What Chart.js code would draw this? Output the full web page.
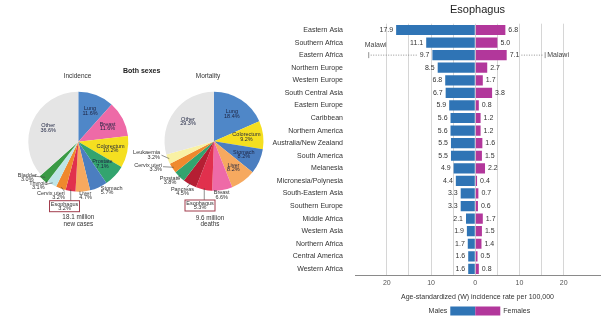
<!DOCTYPE html>
<html>
<head>
<meta charset="utf-8">
<script src="https://cdn.jsdelivr.net/npm/chart.js@4.4.1/dist/chart.umd.min.js"></script>
<style>
  html, body { margin: 0; padding: 0; background: #fff; }
  #page { position: relative; width: 608px; height: 326px; overflow: hidden; }
  .box { position: absolute; }
</style>
</head>
<body>
<div id="page">
  <div class="box" style="left:0;top:0;width:170px;height:240px"><canvas id="incidence"></canvas></div>
  <div class="box" style="left:130px;top:0;width:170px;height:240px"><canvas id="mortality"></canvas></div>
  <div class="box" style="left:250px;top:0;width:358px;height:326px"><canvas id="esophagus"></canvas></div>
</div>
<script>
// --- pies: share of all cancers, both sexes
const incLabels = ['Lung', 'Breast', 'Colorectum', 'Prostate', 'Stomach', 'Liver', 'Esophagus', 'Cervix uteri', 'Thyroid', 'Bladder', 'Other'];
const incShares = [11.6, 11.6, 10.2, 7.1, 5.7, 4.7, 3.2, 3.2, 3.1, 3.0, 36.6];
const incTotal = ['18.1 million', 'new cases'];

const mortLabels = ['Lung', 'Colorectum', 'Stomach', 'Liver', 'Breast', 'Esophagus', 'Pancreas', 'Prostate', 'Cervix uteri', 'Leukaemia', 'Other'];
const mortShares = [18.4, 9.2, 8.2, 8.2, 6.6, 5.3, 4.5, 3.8, 3.3, 3.2, 29.3];
const mortTotal = ['9.6 million', 'deaths'];

// --- esophagus rates by region
const regions = ['Eastern Asia', 'Southern Africa', 'Eastern Africa', 'Northern Europe', 'Western Europe',
  'South Central Asia', 'Eastern Europe', 'Caribbean', 'Northern America', 'Australia/New Zealand',
  'South America', 'Melanesia', 'Micronesia/Polynesia', 'South-Eastern Asia', 'Southern Europe',
  'Middle Africa', 'Western Asia', 'Northern Africa', 'Central America', 'Western Africa'];
const maleRates = [17.9, 11.1, 9.7, 8.5, 6.8, 6.7, 5.9, 5.6, 5.6, 5.5, 5.5, 4.9, 4.4, 3.3, 3.3, 2.1, 1.9, 1.7, 1.6, 1.6];
const femaleRates = [6.8, 5.0, 7.1, 2.7, 1.7, 3.8, 0.8, 1.2, 1.2, 1.6, 1.5, 2.2, 0.4, 0.7, 0.6, 1.7, 1.5, 1.4, 0.5, 0.8];
const malawiRegion = 'Eastern Africa';
const malawiRates = [24.1, 15.8]; // males, females
const rateTicks = [-20, -10, 0, 10, 20];

const FONT = '"Liberation Sans", Arial, Helvetica, sans-serif';
Chart.defaults.font.family = FONT;

const organColors = {
  'Lung': '#4f87c8', 'Breast': '#ee6aa7', 'Colorectum': '#f5df20', 'Prostate': '#33a46f',
  'Stomach': '#4b7ec0', 'Liver': '#f6a95f', 'Esophagus': '#e1304d', 'Cervix uteri': '#ef892d',
  'Thyroid': '#bfe5e7', 'Bladder': '#3a9a45', 'Other': '#e5e5e5', 'Pancreas': '#b51f33',
  'Leukaemia': '#f9f1a4'
};
const maleColor = '#2f74b5';
const femaleColor = '#b2379b';

// text placement around the pies, relative to the pie centre
const incCallouts = {
  'Stomach': { at: [22.5, 46.5], align: 'left' },
  'Liver': { at: [1, 51.3], align: 'left' },
  'Esophagus': { box: [-13.8, 59] },
  'Cervix uteri': { at: [-13.5, 51.6], align: 'right', lead: [[-14, 49.5]] },
  'Thyroid': { at: [-40, 41.6], align: 'center', lead: [[-31, 42.3]] },
  'Bladder': { at: [-51, 33.3], align: 'center', lead: [[-45, 34.3]], leadR: 0.9 }
};
const mortCallouts = {
  'Leukaemia': { at: [-54, 11.5], align: 'right', lead: [[-52.5, 14]] },
  'Cervix uteri': { at: [-52, 23.8], align: 'right', lead: [[-51, 25.5]] },
  'Prostate': { at: [-44, 37.1], align: 'center', lead: [[-37, 36.5]] },
  'Pancreas': { at: [-31.5, 48.1], align: 'center', lead: [[-27, 46]] },
  'Breast': { at: [7.7, 51.5], align: 'center' },
  'Esophagus': { box: [-14, 58.8] }
};

const pieText = {
  id: 'pieText',
  afterDatasetsDraw(chart, args, opts) {
    const ctx = chart.ctx;
    const meta = chart.getDatasetMeta(0);
    const labels = chart.data.labels;
    const values = chart.data.datasets[0].data;
    const cx = meta.data[0].x, cy = meta.data[0].y;
    ctx.save();
    ctx.textBaseline = 'middle';
    ctx.lineWidth = 0.6;
    ctx.strokeStyle = '#444';
    meta.data.forEach((arc, i) => {
      const p = arc.getProps(['startAngle', 'endAngle', 'outerRadius'], true);
      const mid = (p.startAngle + p.endAngle) / 2;
      const name = labels[i];
      const pct = values[i].toFixed(1) + '%';
      const co = opts.callouts[name];
      ctx.font = '5.5px ' + FONT;
      if (!co) {
        const r = p.outerRadius * 0.66;
        const x = cx + Math.cos(mid) * r, y = cy + Math.sin(mid) * r;
        ctx.fillStyle = '#1d2340';
        ctx.textAlign = 'center';
        ctx.fillText(name, x, y - 2.4);
        ctx.fillText(pct, x, y + 2.4);
        return;
      }
      const rr = (p.outerRadius + (arc.options.offset || 0)) * (co.leadR || 0.97);
      const ex = cx + Math.cos(mid) * rr, ey = cy + Math.sin(mid) * rr;
      ctx.fillStyle = '#333';
      if (co.box) {
        const bx = cx + co.box[0], by = cy + co.box[1];
        ctx.beginPath();
        ctx.moveTo(ex, ey);
        ctx.lineTo(ex, by);
        ctx.stroke();
        ctx.save();
        ctx.strokeStyle = '#a23d4d';
        ctx.lineWidth = 1;
        ctx.strokeRect(bx - 15, by, 30, 11);
        ctx.restore();
        ctx.textAlign = 'center';
        ctx.fillText(name, bx, by + 3.3);
        ctx.fillText(pct, bx, by + 7.9);
        return;
      }
      if (co.lead) {
        ctx.beginPath();
        ctx.moveTo(ex, ey);
        co.lead.forEach(pt => ctx.lineTo(cx + pt[0], cy + pt[1]));
        ctx.stroke();
      }
      const tx = cx + co.at[0], ty = cy + co.at[1];
      ctx.textAlign = co.align;
      ctx.fillText(name, tx, ty);
      ctx.fillText(pct, tx, ty + 4.5);
    });
    opts.notes.forEach(n => {
      ctx.font = (n.bold ? 'bold ' : '') + n.size + 'px ' + FONT;
      ctx.fillStyle = n.color || '#333';
      ctx.textAlign = 'center';
      ctx.fillText(n.text, cx + n.at[0], cy + n.at[1]);
    });
    ctx.restore();
  }
};

function makePie(id, labels, shares, radius, padding, callouts, notes, offsets) {
  return new Chart(document.getElementById(id), {
    type: 'pie',
    data: {
      labels: labels,
      datasets: [{
        data: shares,
        backgroundColor: labels.map(l => organColors[l]),
        borderWidth: 0,
        offset: offsets
      }]
    },
    options: {
      responsive: true,
      maintainAspectRatio: false,
      animation: false,
      radius: radius,
      layout: { padding: padding },
      plugins: {
        legend: { display: false },
        tooltip: { enabled: false },
        pieText: { callouts: callouts, notes: notes }
      }
    },
    plugins: [pieText]
  });
}

makePie('incidence', incLabels, incShares, 50,
  { left: 0, right: 13.4, top: 60, bottom: 16.6 }, incCallouts,
  [
    { text: 'Incidence', at: [-0.8, -65], size: 6.5 },
    { text: 'Both sexes', at: [63.4, -70.7], size: 7, bold: true, color: '#222' },
    { text: incTotal[0], at: [0, 76], size: 6.3 },
    { text: incTotal[1], at: [0, 82.3], size: 6.3 }
  ],
  incLabels.map(l => l === 'Bladder' ? 4 : 0));

makePie('mortality', mortLabels, mortShares, 49.5,
  { left: 0, right: 2, top: 60, bottom: 17.6 }, mortCallouts,
  [
    { text: 'Mortality', at: [-6, -64.5], size: 6.5 },
    { text: mortTotal[0], at: [-4, 77.1], size: 6.3 },
    { text: mortTotal[1], at: [-4, 83.1], size: 6.3 }
  ],
  mortLabels.map(() => 0));

// --- butterfly bars
const barValues = {
  id: 'barValues',
  afterDatasetsDraw(chart) {
    const ctx = chart.ctx;
    ctx.save();
    ctx.font = '7px ' + FONT;
    ctx.fillStyle = '#333';
    ctx.textBaseline = 'middle';
    chart.data.datasets.forEach((ds, di) => {
      chart.getDatasetMeta(di).data.forEach((bar, i) => {
        const v = ds.data[i];
        ctx.textAlign = v < 0 ? 'right' : 'left';
        ctx.fillText(Math.abs(v).toFixed(1), bar.x + (v < 0 ? -3 : 3), bar.y);
      });
    });
    ctx.restore();
  }
};

const malawiMarks = {
  id: 'malawiMarks',
  afterDatasetsDraw(chart) {
    const ctx = chart.ctx;
    const xs = chart.scales.x;
    const row = regions.indexOf(malawiRegion);
    const yy = chart.scales.y.getPixelForValue(row);
    ctx.save();
    ctx.font = '7px ' + FONT;
    ctx.textBaseline = 'middle';
    ctx.strokeStyle = '#777';
    ctx.fillStyle = '#444';
    ctx.lineWidth = 0.8;
    // males, left side
    const mx = xs.getPixelForValue(-malawiRates[0]);
    const mEnd = xs.getPixelForValue(-maleRates[row]) - 3 - ctx.measureText(maleRates[row].toFixed(1)).width - 2;
    // females, right side
    const fx = xs.getPixelForValue(malawiRates[1]);
    const fStart = xs.getPixelForValue(femaleRates[row]) + 3 + ctx.measureText(femaleRates[row].toFixed(1)).width + 2;
    ctx.beginPath();
    ctx.moveTo(mx, yy - 3); ctx.lineTo(mx, yy + 3);
    ctx.moveTo(fx, yy - 3); ctx.lineTo(fx, yy + 3);
    ctx.stroke();
    ctx.setLineDash([1, 1.5]);
    ctx.beginPath();
    ctx.moveTo(mx + 2, yy); ctx.lineTo(mEnd, yy);
    ctx.moveTo(fStart, yy); ctx.lineTo(fx - 2, yy);
    ctx.stroke();
    ctx.textAlign = 'left';
    ctx.fillText('Malawi', mx - 4, yy - 10);
    ctx.fillText('Malawi', fx + 2, yy);
    ctx.restore();
  }
};

const splitLegend = {
  id: 'splitLegend',
  afterDraw(chart) {
    const ctx = chart.ctx;
    const x0 = chart.scales.x.getPixelForValue(0);
    const top = chart.scales.x.bottom + 3;
    const ds = chart.data.datasets;
    ctx.save();
    ctx.fillStyle = ds[0].backgroundColor;
    ctx.fillRect(x0 - 25, top, 25, 9);
    ctx.fillStyle = ds[1].backgroundColor;
    ctx.fillRect(x0, top, 25, 9);
    ctx.font = '7px ' + FONT;
    ctx.fillStyle = '#333';
    ctx.textBaseline = 'middle';
    ctx.textAlign = 'right';
    ctx.fillText(ds[0].label, x0 - 28, top + 4.5);
    ctx.textAlign = 'left';
    ctx.fillText(ds[1].label, x0 + 28, top + 4.5);
    ctx.restore();
  }
};

new Chart(document.getElementById('esophagus'), {
  type: 'bar',
  data: {
    labels: regions,
    datasets: [
      { label: 'Males', data: maleRates.map(v => -v), backgroundColor: maleColor },
      { label: 'Females', data: femaleRates, backgroundColor: femaleColor }
    ]
  },
  options: {
    indexAxis: 'y',
    responsive: true,
    maintainAspectRatio: false,
    animation: false,
    layout: { padding: { top: 0, right: 8, bottom: 22.5, left: 0 } },
    datasets: { bar: { barPercentage: 0.88, categoryPercentage: 0.92, borderWidth: 0 } },
    scales: {
      x: {
        stacked: true,
        min: -27.2,
        max: 28.2,
        afterBuildTicks(s) { s.ticks = s.ticks.filter(t => Math.abs(t.value % 5) < 1e-6); },
        ticks: {
          stepSize: 5,
          padding: 4,
          maxRotation: 0,
          autoSkip: false,
          font: { size: 7 },
          color: '#555',
          callback: v => rateTicks.includes(v) ? Math.abs(v) : ''
        },
        grid: { color: '#d6d6d6', drawTicks: false, lineWidth: 1 },
        border: { display: true, color: '#8a8a8a', width: 1 },
        title: {
          display: true,
          text: 'Age-standardized (W) incidence rate per 100,000',
          font: { size: 7 },
          color: '#333',
          padding: { top: 1.5, bottom: 2 }
        }
      },
      y: {
        stacked: true,
        afterFit(s) { s.width = 105; },
        grid: { display: false, drawTicks: false },
        border: { display: false },
        ticks: { padding: 12, font: { size: 7 }, color: '#333', autoSkip: false }
      }
    },
    plugins: {
      legend: { display: false },
      tooltip: { enabled: false },
      title: {
        display: true,
        text: 'Esophagus',
        fullSize: false,
        color: '#222',
        font: { size: 11, weight: 'normal' },
        padding: { top: 3, bottom: 7.5 }
      }
    }
  },
  plugins: [barValues, malawiMarks, splitLegend]
});
</script>
</body>
</html>
